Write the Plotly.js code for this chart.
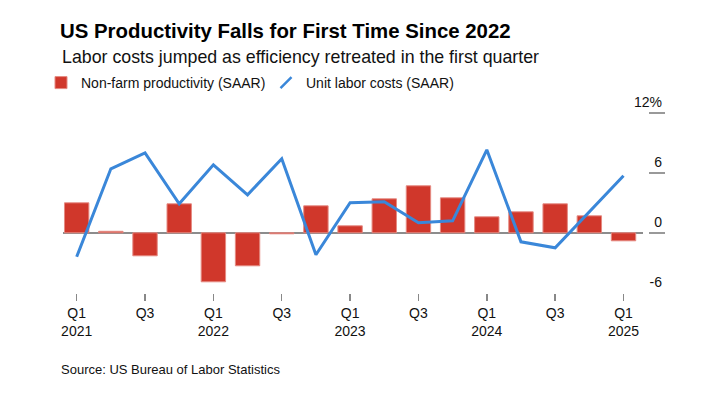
<!DOCTYPE html>
<html>
<head>
<meta charset="utf-8">
<script src="https://cdn.plot.ly/plotly-3.0.1.min.js"></script>
<style>html,body{margin:0;padding:0;background:#fff;}#chart{width:707px;height:397px;}</style>
</head>
<body>
<div id="chart"></div>
<script>
var quarters = ['2021 Q1','2021 Q2','2021 Q3','2021 Q4','2022 Q1','2022 Q2','2022 Q3','2022 Q4',
  '2023 Q1','2023 Q2','2023 Q3','2023 Q4','2024 Q1','2024 Q2','2024 Q3','2024 Q4','2025 Q1'];
var productivity = [3.0, 0.15, -2.3, 2.9, -4.9, -3.3, -0.1, 2.7, 0.7, 3.4, 4.7, 3.5, 1.6, 2.1, 2.9, 1.7, -0.8];
var unitLaborCosts = [-2.4, 6.4, 8.0, 2.9, 6.8, 3.8, 7.4, -2.2, 3.0, 3.1, 1.0, 1.2, 8.3, -0.9, -1.5, 2.1, 5.7];
var xTickCats = ['2021 Q1','2021 Q3','2022 Q1','2022 Q3','2023 Q1','2023 Q3','2024 Q1','2024 Q3','2025 Q1'];
var xTickText = ['Q1<br>2021','Q3','Q1<br>2022','Q3','Q1<br>2023','Q3','Q1<br>2024','Q3','Q1<br>2025'];
var yTickVals = [-6, 0, 6, 12];
var yTickText = ['-6', '0', '6', '12%'];
var seriesNames = ['Non-farm productivity (SAAR)', 'Unit labor costs (SAAR)'];

var RED = '#d0372b', BLUE = '#3a87d9';
var FONT = 'Liberation Sans, Arial, Helvetica, sans-serif';

// plot area: bottom at 293px, 205px tall (10px per percentage point)
var PB = 293, PH = 205;
function py(p) { return (PB - p) / PH; }

var traces = [
  {
    type: 'bar', x: quarters, y: productivity, name: seriesNames[0],
    marker: {color: RED, line: {color: '#e58a82', width: 1}},
    showlegend: true
  },
  {
    type: 'scatter', mode: 'lines', x: quarters, y: unitLaborCosts, name: seriesNames[1],
    line: {color: BLUE, width: 3}, showlegend: false
  },
  {
    type: 'scatter', mode: 'markers', x: [null], y: [null], name: seriesNames[1],
    marker: {symbol: 'line-ne', size: 11, color: BLUE, line: {color: BLUE, width: 2.5}},
    showlegend: true
  }
];

var layout = {
  width: 707, height: 397,
  margin: {l: 63, r: 42, t: PB - PH, b: 397 - PB - 0 - 0},
  paper_bgcolor: '#fff', plot_bgcolor: '#fff',
  font: {family: FONT, size: 14, color: '#111'},
  bargap: 0.286,
  showlegend: true,
  title: {
    text: '<b>US Productivity Falls for First Time Since 2022</b>',
    font: {family: FONT, size: 20.4, color: '#000'},
    xref: 'container', x: 60/707, xanchor: 'left',
    yref: 'container', y: 1 - 31/397, yanchor: 'middle'
  },
  legend: {
    orientation: 'h', x: (41-63)/602, xanchor: 'left', y: py(83), yanchor: 'middle',
    font: {family: FONT, size: 14, color: '#111'}, bgcolor: 'rgba(0,0,0,0)',
    entrywidth: 180, entrywidthmode: 'pixels',
    traceorder: 'normal', itemclick: false
  },
  xaxis: {
    type: 'category', domain: [0, 580/602], range: [-0.4, 16.57],
    tickmode: 'array', tickvals: xTickCats, ticktext: xTickText,
    ticks: 'outside', ticklen: 7, tickwidth: 1.5, tickcolor: '#888',
    showgrid: false, zeroline: false, showline: false,
    tickfont: {family: FONT, size: 14, color: '#111'}, fixedrange: true
  },
  yaxis: {
    anchor: 'free', position: 1, side: 'right', range: [-6.02, 14.48],
    tickmode: 'array', tickvals: yTickVals, ticktext: yTickText,
    ticks: 'inside', ticklen: 16, tickwidth: 2, tickcolor: '#999',
    ticklabelposition: 'inside top',
    showgrid: false, showline: false,
    zeroline: true, zerolinecolor: '#8c8c8c', zerolinewidth: 2,
    tickfont: {family: FONT, size: 14, color: '#111'}, fixedrange: true
  },
  annotations: [
    {
      text: 'Labor costs jumped as efficiency retreated in the first quarter',
      xref: 'paper', yref: 'paper', x: (60-63)/602, y: py(57),
      xanchor: 'left', yanchor: 'middle', showarrow: false,
      font: {family: FONT, size: 17.8, color: '#111'}
    },
    {
      text: 'Source: US Bureau of Labor Statistics',
      xref: 'paper', yref: 'paper', x: (59-63)/602, y: py(369),
      xanchor: 'left', yanchor: 'middle', showarrow: false,
      font: {family: FONT, size: 13, color: '#111'}
    }
  ]
};

Plotly.newPlot('chart', traces, layout, {staticPlot: true, displayModeBar: false});
</script>
</body>
</html>
